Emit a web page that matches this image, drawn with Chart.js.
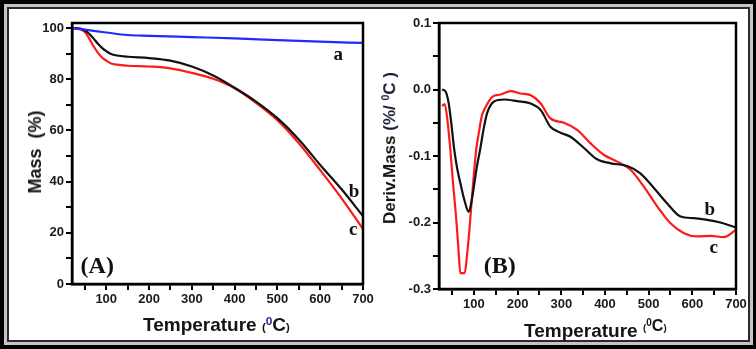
<!DOCTYPE html>
<html>
<head>
<meta charset="utf-8">
<script src="https://cdn.jsdelivr.net/npm/chart.js@4/dist/chart.umd.min.js"></script>
<style>
  body { margin: 0; background: #fff; }
  #wrap { position: relative; width: 756px; height: 349px; overflow: hidden; background: #fff; }
  .frame { position: absolute; left: 0; top: 0; width: 756px; height: 349px; box-sizing: border-box;
           border: 4px solid #000; border-bottom-width: 5px; pointer-events: none; }
  .inner { position: absolute; left: 3px; top: 3px; right: 2px; bottom: 2px;
           border: 2px solid #2a2a2a; box-shadow: 0 0 0 3px #c4c4c4; }
  canvas { position: absolute; top: 0; }
  #cA { left: 0; }
  #cB { left: 376px; }
  .title { position: absolute; font-family: 'Liberation Sans', Arial, sans-serif; font-weight: bold;
           color: #141414; white-space: nowrap; line-height: 1; }
  .sm { font-size: 0.6em; }
  .sup0 { font-size: 0.62em; vertical-align: 0.55em; color: #1c2b8f; }
  .navy { color: #1a1f3a; }
</style>
</head>
<body>
<div id="wrap">
  <div class="frame"><div class="inner"></div></div>
  <canvas id="cA" width="380" height="349"></canvas>
  <canvas id="cB" width="380" height="349"></canvas>

  <div class="title" style="font-size:18px; left:35px; top:152px; transform:translate(-50%,-50%) rotate(-90deg);">Mass&nbsp; (%)</div>
  <div class="title" style="font-size:19px; left:143px; top:315px;">Temperature <span class="sm">(</span><span class="sup0">0</span>C<span class="sm">)</span></div>

  <div class="title" style="font-size:17px; left:389px; top:148px; transform:translate(-50%,-50%) rotate(-90deg);">Deriv.Mass <span class="navy">(%/ <span class="sup0" style="color:#1a1f3a">0</span>C )</span></div>
  <div class="title" style="font-size:19px; left:524px; top:317px;">Temperature <span style="font-size:0.85em; vertical-align:0.35em;"><span class="sm">(</span><span class="sup0" style="color:#141414">0</span>C<span class="sm">)</span></span></div>
</div>

<script>
// ---- panel A : TGA mass loss ----
const tempA = [22, 50, 100, 150, 200, 300, 400, 500, 600, 700];
const massA = [100, 99.4, 98.3, 97.3, 97, 96.5, 96, 95.3, 94.7, 94.2];
const tempBC = [22, 40, 50, 60, 70, 80, 90, 100, 110, 125, 150, 200, 250, 300, 350, 400, 450, 500, 550, 600, 650, 700];
const massB = [100, 99.8, 99, 97.8, 96, 94, 92.3, 91, 90, 89.3, 88.8, 88.3, 87.3, 85, 81.5, 76.7, 71.3, 64.8, 56.5, 46.5, 37, 26.5];
const massC = [100, 99.5, 98.5, 96, 93, 90.5, 88.5, 87.3, 86.3, 85.7, 85.3, 85, 84.3, 82.5, 80.2, 76.5, 70.8, 64, 55, 44.5, 33.5, 21.5];

// ---- panel B : derivative ----
const tempDb = [27, 35, 42, 48, 55, 62, 69, 78, 88, 94, 101, 107, 114, 122, 130, 146, 169, 199, 230, 253, 275, 298, 321, 352, 382, 413, 451, 481, 512, 542, 573, 603, 634, 664, 700];
const derivB = [0, -0.003, -0.02, -0.05, -0.091, -0.12, -0.141, -0.166, -0.184, -0.17, -0.141, -0.115, -0.091, -0.06, -0.036, -0.018, -0.015, -0.0175, -0.021, -0.031, -0.056, -0.065, -0.071, -0.088, -0.105, -0.111, -0.115, -0.126, -0.148, -0.171, -0.191, -0.1935, -0.196, -0.2, -0.2075];
const tempDc = [27, 33, 40, 46, 52, 59, 64, 69, 79, 84, 89, 97, 105, 111, 118, 127, 142, 161, 184, 207, 230, 253, 275, 306, 337, 367, 398, 428, 459, 489, 520, 550, 581, 611, 642, 672, 700];
const derivC = [-0.025, -0.022, -0.05, -0.091, -0.14, -0.191, -0.235, -0.276, -0.276, -0.25, -0.216, -0.15, -0.091, -0.066, -0.04, -0.026, -0.011, -0.0075, -0.0025, -0.006, -0.0085, -0.021, -0.0435, -0.05, -0.061, -0.081, -0.0985, -0.1085, -0.121, -0.146, -0.176, -0.201, -0.216, -0.221, -0.22, -0.222, -0.211];

// tick positions
const xTicks = [50, 100, 150, 200, 250, 300, 350, 400, 450, 500, 550, 600, 650, 700];
const massTicks = [0, 10, 20, 30, 40, 50, 60, 70, 80, 90, 100];
const derivTicks = [-0.3, -0.25, -0.2, -0.15, -0.1, -0.05, 0, 0.05, 0.1];

const tickFont = { family: "'Liberation Sans', Arial, sans-serif", size: 13, weight: 'bold' };
const noteFont = "bold 19px 'Liberation Serif', 'Times New Roman', serif";

const toXY = (xs, ys) => xs.map((x, i) => ({ x: x, y: ys[i] }));

const boxPlugin = {
    id: 'box',
    afterDraw(chart) {
        const a = chart.chartArea, ctx = chart.ctx;
        ctx.save();
        ctx.strokeStyle = '#000';
        ctx.lineWidth = 2.5;
        ctx.strokeRect(a.left, a.top, a.right - a.left, a.bottom - a.top);
        ctx.restore();
    }
};

const notesPlugin = {
    id: 'notes',
    afterDatasetsDraw(chart, args, opts) {
        const ctx = chart.ctx;
        ctx.save();
        ctx.textAlign = 'center';
        ctx.textBaseline = 'middle';
        ctx.fillStyle = '#111';
        opts.items.forEach(n => {
            ctx.font = n.font || noteFont;
            ctx.fillText(n.text, chart.scales.x.getPixelForValue(n.x), chart.scales.y.getPixelForValue(n.y));
        });
        ctx.restore();
    }
};

function line(data, color) {
    return {
        data: data,
        borderColor: color,
        borderWidth: 2.2,
        pointRadius: 0,
        cubicInterpolationMode: 'monotone',
        fill: false
    };
}

function axis(min, max, ticks, label, size) {
    return {
        type: 'linear',
        min: min,
        max: max,
        afterBuildTicks: s => { s.ticks = ticks.map(v => ({ value: v })); },
        afterFit: s => {
            if (s.isHorizontal()) s.height = size; else s.width = size;
        },
        ticks: {
            autoSkip: false,
            maxRotation: 0,
            padding: 2,
            color: '#1a1a1a',
            font: tickFont,
            callback: label
        },
        grid: { drawOnChartArea: false, drawTicks: true, tickLength: 6, color: '#000', lineWidth: 2 },
        border: { display: true, color: '#000', width: 2.5 }
    };
}

const xLabel = v => (v % 100 === 0 ? String(v) : '');

new Chart(document.getElementById('cA'), {
    type: 'line',
    data: {
        datasets: [
            line(toXY(tempA, massA), '#1f2bff'),
            line(toXY(tempBC, massB), '#111111'),
            line(toXY(tempBC, massC), '#ff1a1a')
        ]
    },
    plugins: [boxPlugin, notesPlugin],
    options: {
        responsive: false,
        animation: false,
        layout: { padding: { left: 0, top: 23, right: 17, bottom: 35 } },
        plugins: {
            legend: { display: false },
            tooltip: { enabled: false },
            notes: {
                items: [
                    { text: 'a', x: 642, y: 89.5 },
                    { text: 'b', x: 679, y: 36 },
                    { text: 'c', x: 677, y: 21 },
                    { text: '(A)', x: 79, y: 6.6, font: "bold 24px 'Liberation Serif', 'Times New Roman', serif" }
                ]
            }
        },
        scales: {
            x: axis(20, 700, xTicks, xLabel, 30),
            y: axis(0, 102, massTicks, v => (v % 20 === 0 ? String(v) : ''), 72)
        }
    }
});

new Chart(document.getElementById('cB'), {
    type: 'line',
    data: {
        datasets: [
            line(toXY(tempDb, derivB), '#111111'),
            line(toXY(tempDc, derivC), '#ff1a1a')
        ]
    },
    plugins: [boxPlugin, notesPlugin],
    options: {
        responsive: false,
        animation: false,
        layout: { padding: { left: 0, top: 23, right: 20, bottom: 32 } },
        plugins: {
            legend: { display: false },
            tooltip: { enabled: false },
            notes: {
                items: [
                    { text: 'b', x: 640, y: -0.181 },
                    { text: 'c', x: 649, y: -0.238 },
                    { text: '(B)', x: 159, y: -0.267, font: "bold 24px 'Liberation Serif', 'Times New Roman', serif" }
                ]
            }
        },
        scales: {
            x: axis(20, 700, xTicks, xLabel, 28),
            y: axis(-0.3, 0.1, derivTicks, v => (Math.abs(Math.round(v * 10) - v * 10) < 1e-6 ? v.toFixed(1) : ''), 63)
        }
    }
});
</script>
</body>
</html>
